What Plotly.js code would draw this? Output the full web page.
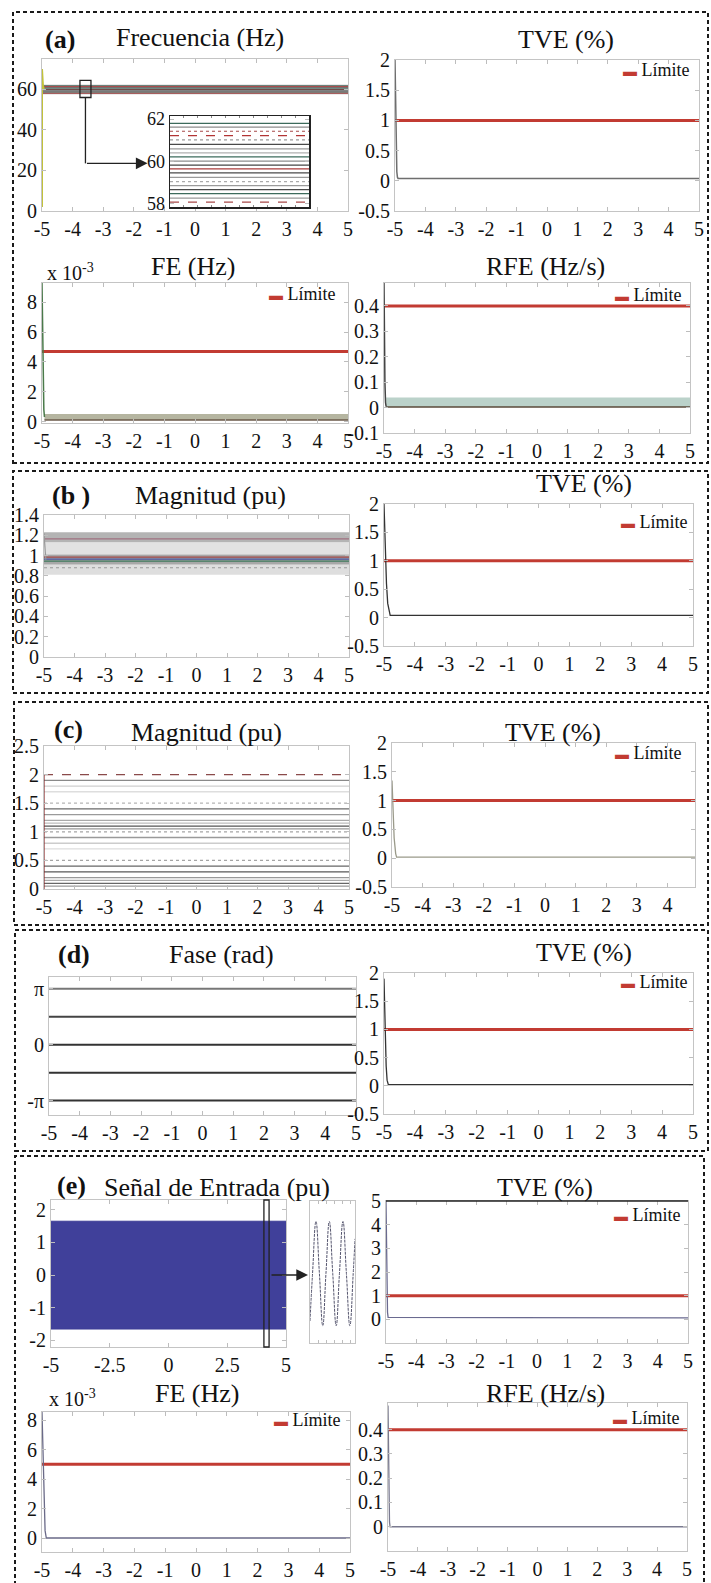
<!DOCTYPE html>
<html>
<head>
<meta charset="utf-8">
<script src="https://cdn.plot.ly/plotly-3.0.1.min.js"></script>
<style>
  html, body { margin: 0; padding: 0; background: #fff; }
  #fig { width: 711px; height: 1583px; }
</style>
</head>
<body>
<div id="fig"></div>
<script>
// ---------------- data ----------------
const timeTicks = [-5, -4, -3, -2, -1, 0, 1, 2, 3, 4, 5];
const inputTicks = [-5, -2.5, 0, 2.5, 5];
const timeSpan = [-5, 5];

// (a) frequency ramp: one trace per test frequency
const freqLevels = [61.80, 61.62, 61.43, 61.22, 61.02, 60.81, 60.60, 60.41, 60.22, 60.02,
                    59.83, 59.65, 59.46, 59.25, 59.05, 58.86, 58.67, 58.48, 58.27, 58.08];
const freqColors = ['#3d6b5c', '#8c8c8c', '#a84a4a', '#b23434', '#9a9a9a', '#4a4a4a', '#9a9a9a', '#b0b0b0', '#3d6b5c', '#8c8c8c',
                    '#444444', '#a83a3a', '#4a4a4a', '#9a9a9a', '#aaaaaa', '#9a9a9a', '#4a4a4a', '#3d6b5c', '#9a9a9a', '#a84a4a'];
const freqDash = ['solid', 'solid', 'dot', 'dash', 'dot', 'solid', 'solid', 'solid', 'solid', 'solid',
                  'solid', 'solid', 'solid', 'solid', 'dot', 'solid', 'solid', 'solid', 'solid', 'dash'];
const freqBand = [57.6, 62.3];
const freqStartT = [-5, -5, -4.97, -4.94];
const freqStartV = [2, 70, 62, 60];
const freqZoomX = [-3.76, -3.40];
const freqZoomY = [56, 64.5];

const tveA_t = [-5, -4.98, -4.96, -4.94, -4.92, -4.9, 5];
const tveA_v = [2.0, 1.1, 0.45, 0.15, 0.06, 0.04, 0.04];

const feA_t = [-5, -4.98, -4.96, -4.94, -4.92];
const feA_v = [0.0093, 0.006, 0.0025, 0.0008, 0.0003];
const feA_noiseLo = 0.0001, feA_noiseHi = 0.0005;
const feA_limit = 0.0047;

const rfeA_t = [-5, -4.99, -4.97, -4.95, -4.93];
const rfeA_v = [0.49, 0.3, 0.1, 0.02, 0.004];
const rfeA_noiseLo = 0.002, rfeA_noiseHi = 0.04;

// (b) magnitude steps
const magB_bandLo = [1.13, 1.01, 0.91, 0.81];
const magB_bandHi = [1.23, 1.13, 1.01, 0.91];
const magB_bandColors = ['#b4b4b4', '#e2e2e2', '#a8a8a8', '#dedede'];
const magB_lines = [1.165, 0.985, 0.965, 0.945, 0.88];
const magB_lineColors = ['#a07080', '#a04848', '#4a55a0', '#3f7a5c', '#999999'];
const magB_startT = [-5, -4.97, -4.94];
const magB_startV = [1.22, 1.0, 0.96];

const tveB_t = [-5, -4.96, -4.92, -4.88, -4.84, -4.8, 5];
const tveB_v = [2.0, 1.2, 0.6, 0.25, 0.1, 0.04, 0.04];

// (c) magnitude levels
const magC_levels = [2.0, 1.9, 1.8, 1.7, 1.5, 1.4, 1.3, 1.2, 1.15, 1.1, 1.05, 1.0,
                     0.9, 0.8, 0.7, 0.5, 0.4, 0.3, 0.2, 0.15, 0.1, 0.05];
const magC_colors = ['#8a4a4a', '#8a8a8a', '#cfcfcf', '#dedede', '#b5b5b5', '#6a6a6a', '#9a9a9a', '#aaaaaa', '#bdbdbd', '#555555', '#9a9a9a', '#a5a5a5',
                     '#9a9a9a', '#cccccc', '#dddddd', '#a5a5a5', '#666666', '#595959', '#999999', '#aaaaaa', '#666666', '#999999'];
const magC_dash = ['dash', 'solid', 'solid', 'solid', 'dot', 'solid', 'solid', 'solid', 'solid', 'solid', 'solid', 'dot',
                   'solid', 'solid', 'solid', 'dot', 'solid', 'solid', 'solid', 'solid', 'solid', 'solid'];

const tveC_t = [-5, -4.97, -4.93, -4.88, -4.85, 4.9];
const tveC_v = [1.35, 0.9, 0.35, 0.08, 0.02, 0.02];

// (d) phase steps
const phaseLevels = [Math.PI, Math.PI / 2, 0, -Math.PI / 2, -Math.PI];
const phaseColors = ['#777777', '#444444', '#333333', '#333333', '#333333'];

const tveD_t = [-5, -4.97, -4.93, -4.9, -4.86, 5];
const tveD_v = [1.9, 1.0, 0.35, 0.1, 0.02, 0.02];

// (e) input signal envelope and a close-up of a few cycles
const sigT = [-5, 5];
const sigHi = [1.65, 1.65];
const sigLo = [-1.65, -1.65];
const sigZoomX = [4.06, 4.28];
const closeT = [0, 3.1, 7.3, 11.5, 15.6, 19.5, 23.6, 27.8, 32.0, 36.0, 40.3, 44.5, 48.7, 52.8, 55];
const closeV = [-1.5, 0, 1.65, 0, -1.65, 0, 1.65, 0, -1.65, 0, 1.65, 0, -1.65, 0, 1.1];

const tveE_t = [-5, -4.985, -4.97, -4.95, -4.93, 5];
const tveE_v = [5, 3.5, 1.2, 0.3, 0.08, 0.06];
const feE_t = [-5, -4.97, -4.93, -4.9, -4.86, 5];
const feE_v = [0.00855, 0.006, 0.0025, 0.0005, 0, 0];
const rfeE_t = [-5, -4.985, -4.97, -4.95, -4.93, 5];
const rfeE_v = [0.5, 0.3, 0.1, 0.02, 0, 0];

const tveLimit = 1, feLimit = 0.005, rfeLimit = 0.4;

// ---------------- layout helpers ----------------
const W = 711, H = 1583;
const FONT = 'Liberation Serif';
const RED = '#c23b32';

const layout = {
  width: W, height: H,
  margin: { l: 0, r: 0, t: 0, b: 0 },
  paper_bgcolor: '#ffffff', plot_bgcolor: '#ffffff',
  showlegend: false,
  font: { family: FONT, color: '#111' },
  shapes: [], annotations: []
};
const traces = [];

function baseAxis() {
  return {
    showline: true, mirror: 'ticks', linecolor: '#c4c4c4', linewidth: 1,
    ticks: 'inside', ticklen: 4, tickcolor: '#bdbdbd',
    showgrid: false, zeroline: false, fixedrange: true,
    tickfont: { family: FONT, size: 20, color: '#111' }
  };
}
function ticksOf(vals, labels) {
  return { tickmode: 'array', tickvals: vals, ticktext: labels || vals.map(String) };
}
function panel(n, box, xo, yo) {
  const xk = 'xaxis' + (n === 1 ? '' : n), yk = 'yaxis' + (n === 1 ? '' : n);
  const xid = 'x' + (n === 1 ? '' : n), yid = 'y' + (n === 1 ? '' : n);
  layout[xk] = Object.assign(baseAxis(), { domain: [box[0] / W, box[1] / W], anchor: yid }, xo);
  layout[yk] = Object.assign(baseAxis(), { domain: [1 - box[3] / H, 1 - box[2] / H], anchor: xid }, yo);
  return { xaxis: xid, yaxis: yid };
}
function timeX(extra) {
  return Object.assign({ range: [-5, 5] }, ticksOf(timeTicks), extra || {});
}
function line(ax, x, y, color, width, dash, name) {
  traces.push(Object.assign({ type: 'scatter', mode: 'lines', x: x, y: y, name: name || '',
    line: { color: color, width: width || 1, dash: dash || 'solid' }, hoverinfo: 'skip' }, ax));
}
function band(ax, x, lo, hi, color) {
  traces.push(Object.assign({ type: 'scatter', mode: 'lines', x: [x[0], x[1], x[1], x[0]], y: [lo, lo, hi, hi],
    fill: 'toself', fillcolor: color, line: { width: 0 }, hoverinfo: 'skip' }, ax));
}
function limit(ax, value) {
  line(ax, timeSpan, [value, value], RED, 3, 'solid', 'Límite');
}
function px(x) { return x / W; }
function py(y) { return 1 - y / H; }
function text(str, cx, cy, size, anchor, extra) {
  layout.annotations.push(Object.assign({
    xref: 'paper', yref: 'paper', x: px(cx), y: py(cy), text: str, showarrow: false,
    xanchor: anchor || 'center', yanchor: 'middle',
    font: { family: FONT, size: size, color: '#111' }
  }, extra || {}));
}
function legendKey(right, cy) {
  text('<span style="color:' + RED + ';font-size:14px">▬</span> Límite', right, cy, 18, 'right');
}
function section(x0, x1, y0, y1) {
  layout.shapes.push({ type: 'rect', xref: 'paper', yref: 'paper', x0: px(x0), x1: px(x1), y0: py(y1), y1: py(y0),
    line: { color: '#1a1a1a', width: 2, dash: '4px,3px' }, fillcolor: 'rgba(0,0,0,0)', layer: 'above' });
}

// ---------------- (a) ----------------
const a1 = panel(1, [42, 348, 59, 211], timeX(), Object.assign({ range: [0, 75] }, ticksOf([0, 20, 40, 60])));
band(a1, timeSpan, freqBand[0], freqBand[1], 'rgba(150,150,150,0.75)');
freqLevels.forEach((f, i) => line(a1, timeSpan, [f, f], freqColors[i], 1, 'solid'));
line(a1, freqStartT, freqStartV, '#c2c23a', 2);
layout.shapes.push({ type: 'rect', xref: 'x', yref: 'y', x0: freqZoomX[0], x1: freqZoomX[1], y0: freqZoomY[0], y1: freqZoomY[1],
  line: { color: '#222', width: 1.3 } });
const arrowX = (freqZoomX[0] + freqZoomX[1]) / 2;
layout.shapes.push({ type: 'line', xref: 'x', yref: 'y', x0: arrowX, x1: arrowX, y0: freqZoomY[0], y1: 23.5,
  line: { color: '#222', width: 1.3 } });
layout.annotations.push({ xref: 'x', yref: 'y', axref: 'x', ayref: 'y', x: -1.55, y: 23.5, ax: arrowX, ay: 23.5,
  text: '', showarrow: true, arrowhead: 2, arrowsize: 1.8, arrowwidth: 1.3, arrowcolor: '#222' });

const a1i = panel(2, [170, 309, 116, 207],
  { range: [-5, 5], showticklabels: false, linecolor: '#222', linewidth: 1.5, ticks: 'inside', tickcolor: '#888', ticklen: 2, dtick: 1 },
  Object.assign({ range: [57.85, 62.15], linecolor: '#222', linewidth: 1.5, tickfont: { family: FONT, size: 18, color: '#111' } },
    ticksOf([58, 60, 62])));
freqLevels.forEach((f, i) => line(a1i, timeSpan, [f, f], freqColors[i], 1.2, freqDash[i]));

const a2 = panel(3, [395, 699, 60, 211], timeX(), Object.assign({ range: [-0.5, 2] }, ticksOf([-0.5, 0, 0.5, 1, 1.5, 2])));
limit(a2, tveLimit);
line(a2, tveA_t, tveA_v, '#6e6e6e', 1.5, 'solid');

const a3 = panel(4, [42, 348, 283, 423], timeX(),
  Object.assign({ range: [-0.0001, 0.0093] }, ticksOf([0, 0.002, 0.004, 0.006, 0.008], ['0', '2', '4', '6', '8'])));
band(a3, [-4.92, 5], feA_noiseLo, feA_noiseHi, 'rgba(150,150,120,0.7)');
line(a3, [-4.92, 5], [feA_noiseLo, feA_noiseLo], '#6b5a4a', 1.5);
limit(a3, feA_limit);
line(a3, feA_t, feA_v, '#4a7a4a', 1.5);

const a4 = panel(5, [384, 690, 283, 433], timeX(),
  Object.assign({ range: [-0.1, 0.49] }, ticksOf([-0.1, 0, 0.1, 0.2, 0.3, 0.4])));
band(a4, [-4.93, 5], rfeA_noiseLo, rfeA_noiseHi, 'rgba(120,165,150,0.5)');
line(a4, [-4.93, 5], [rfeA_noiseLo, rfeA_noiseLo], '#5a4a3a', 1.5);
limit(a4, rfeLimit);
line(a4, rfeA_t, rfeA_v, '#444', 1.5);

text('<b>(a)</b>', 60, 40, 26);
text('Frecuencia (Hz)', 200, 37, 26);
text('TVE (%)', 566, 40, 26);
text('FE (Hz)', 193, 266, 26);
text('RFE (Hz/s)', 545, 266, 26);
text('x 10<sup>-3</sup>', 45, 272, 20, 'left');
legendKey(692, 70);
legendKey(338, 294);
legendKey(684, 295);
section(13, 708, 12, 463);

// ---------------- (b) ----------------
const b1 = panel(6, [44, 349, 515, 657], timeX(),
  Object.assign({ range: [0, 1.4] }, ticksOf([0, 0.2, 0.4, 0.6, 0.8, 1, 1.2, 1.4])));
magB_bandLo.forEach((lo, i) => band(b1, timeSpan, lo, magB_bandHi[i], magB_bandColors[i]));
magB_lines.forEach((m, i) => line(b1, timeSpan, [m, m], magB_lineColors[i], 1.2, i === 4 ? 'dot' : 'solid'));
line(b1, magB_startT, magB_startV, '#999', 1.2);

const b2 = panel(7, [384, 693, 504, 646], timeX(), Object.assign({ range: [-0.5, 2] }, ticksOf([-0.5, 0, 0.5, 1, 1.5, 2])));
limit(b2, tveLimit);
line(b2, tveB_t, tveB_v, '#333', 1.3);

text('<b>(b )</b>', 71, 495, 26);
text('Magnitud (pu)', 210, 495, 26);
text('TVE (%)', 584, 484, 26);
legendKey(690, 522);
section(13, 708, 471, 693);

// ---------------- (c) ----------------
const c1 = panel(8, [44, 349, 746, 889], timeX(),
  Object.assign({ range: [0, 2.5] }, ticksOf([0, 0.5, 1, 1.5, 2, 2.5])));
magC_levels.forEach((m, i) => line(c1, timeSpan, [m, m], magC_colors[i], 1.3, magC_dash[i]));
line(c1, [-5, -5], [0, magC_levels[0]], '#8a2a2a', 1.2);

const c2 = panel(9, [392, 695, 743, 887], timeX({ range: [-5, 4.9] }),
  Object.assign({ range: [-0.5, 2] }, ticksOf([-0.5, 0, 0.5, 1, 1.5, 2])));
limit(c2, tveLimit);
line(c2, tveC_t, tveC_v, '#9a9a8a', 1.3);

text('<b>(c)</b>', 68, 729, 26);
text('Magnitud (pu)', 206, 732, 26);
text('TVE (%)', 553, 732, 26);
legendKey(684, 753);
section(14, 708, 702, 925);

// ---------------- (d) ----------------
const d1 = panel(10, [49, 356, 977, 1115], timeX(),
  Object.assign({ range: [-3.95, 3.8] }, ticksOf([-Math.PI, 0, Math.PI], ['-π', '0', 'π'])));
phaseLevels.forEach((p, i) => line(d1, timeSpan, [p, p], phaseColors[i], 2));

const d2 = panel(11, [384, 693, 973, 1114], timeX(), Object.assign({ range: [-0.5, 2] }, ticksOf([-0.5, 0, 0.5, 1, 1.5, 2])));
limit(d2, tveLimit);
line(d2, tveD_t, tveD_v, '#333', 1.3);

text('<b>(d)</b>', 74, 955, 26);
text('Fase (rad)', 221, 955, 26);
text('TVE (%)', 584, 952, 26);
legendKey(690, 982);
section(15, 708, 930, 1151);

// ---------------- (e) ----------------
const e1 = panel(12, [51, 286, 1200, 1347],
  Object.assign({ range: [-5, 5] }, ticksOf(inputTicks)),
  Object.assign({ range: [-2.2, 2.3] }, ticksOf([-2, -1, 0, 1, 2])));
traces.push(Object.assign({ type: 'scatter', mode: 'lines', x: sigT, y: sigHi, line: { color: '#3d3d96', width: 1 }, hoverinfo: 'skip' }, e1));
traces.push(Object.assign({ type: 'scatter', mode: 'lines', x: sigT, y: sigLo, fill: 'tonexty', fillcolor: '#40409a',
  line: { color: '#3d3d96', width: 1 }, hoverinfo: 'skip' }, e1));
layout.shapes.push({ type: 'rect', xref: 'x12', yref: 'y12 domain', x0: sigZoomX[0], x1: sigZoomX[1], y0: 0, y1: 1,
  line: { color: '#222', width: 1.3 } });
layout.annotations.push({ xref: 'paper', yref: 'paper', x: px(308), y: py(1275), ax: -38, ay: 0,
  text: '', showarrow: true, arrowhead: 2, arrowsize: 1.8, arrowwidth: 1.3, arrowcolor: '#222' });

const e1i = panel(13, [310, 355, 1201, 1343],
  { range: [0, 55], showticklabels: false, dtick: 10, ticklen: 3 },
  { range: [-2.2, 2.3], showticklabels: false, ticks: '' });
traces.push(Object.assign({ type: 'scatter', mode: 'lines', x: closeT, y: closeV,
  line: { color: '#55556e', width: 1, shape: 'spline', smoothing: 1.3, dash: '3px,1px' }, hoverinfo: 'skip' }, e1i));

const e2 = panel(14, [386, 688, 1201, 1343], timeX(),
  Object.assign({ range: [-1, 5] }, ticksOf([0, 1, 2, 3, 4, 5])));
layout.shapes.push({ type: 'line', xref: 'x14 domain', yref: 'y14 domain', x0: 0, x1: 1, y0: 1, y1: 1, line: { color: '#222', width: 1.3 } });
limit(e2, tveLimit);
line(e2, tveE_t, tveE_v, '#6a6a90', 1.3);

const e3 = panel(15, [42, 350, 1412, 1552], timeX(),
  Object.assign({ range: [-0.00095, 0.00855] }, ticksOf([0, 0.002, 0.004, 0.006, 0.008], ['0', '2', '4', '6', '8'])));
limit(e3, feLimit);
line(e3, feE_t, feE_v, '#6a6a88', 1.3);

const e4 = panel(16, [388, 687, 1403, 1551], timeX(),
  Object.assign({ range: [-0.1, 0.51] }, ticksOf([0, 0.1, 0.2, 0.3, 0.4])));
limit(e4, rfeLimit);
line(e4, rfeE_t, rfeE_v, '#7a7a90', 1.3);

text('<b>(e)</b>', 71, 1185, 26);
text('Señal de Entrada (pu)', 217, 1187, 26);
text('TVE (%)', 545, 1187, 26);
text('FE (Hz)', 197, 1393, 26);
text('RFE (Hz/s)', 545, 1393, 26);
text('x 10<sup>-3</sup>', 47, 1398, 20, 'left');
legendKey(683, 1215);
legendKey(343, 1420);
legendKey(682, 1418);
section(15, 704, 1156, 1600);

Plotly.newPlot('fig', traces, layout, { staticPlot: true, displayModeBar: false });
</script>
</body>
</html>
